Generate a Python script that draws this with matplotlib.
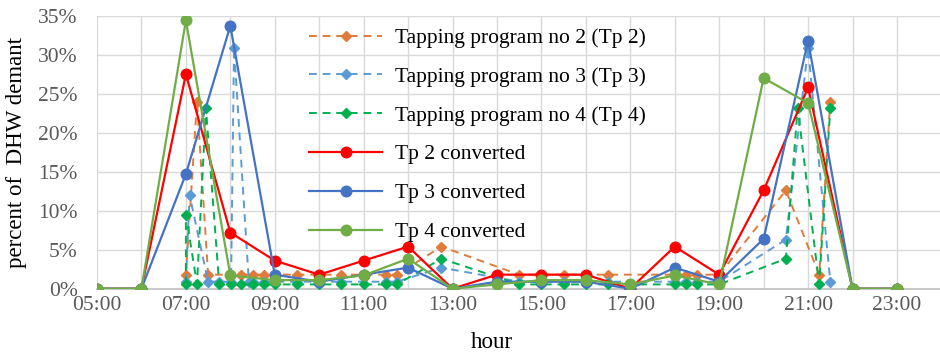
import matplotlib
matplotlib.use("Agg")
import matplotlib.pyplot as plt
from matplotlib.ticker import FixedLocator, FuncFormatter

plt.rcParams['font.family'] = ['Liberation Serif', 'DejaVu Serif']

# Tapping programs: time of each draw-off and share of the daily DHW demand (%)
tp2_times = ["07:00", "07:15", "07:30", "08:00", "08:15", "08:30", "08:45", "09:00",
             "09:30", "10:30", "11:30", "11:45", "12:45", "14:30", "15:30", "16:30",
             "18:00", "18:15", "18:30", "19:00", "20:30", "21:15", "21:30"]
tp2_values = [1.8, 24.0, 1.8, 1.8, 1.8, 1.8, 1.8, 1.8,
              1.8, 1.8, 1.8, 1.8, 5.4, 1.8, 1.8, 1.8,
              1.8, 1.8, 1.8, 1.8, 12.6, 1.8, 24.0]

tp3_times = ["07:00", "07:05", "07:30", "07:45", "08:01", "08:05", "08:25", "08:30",
             "08:45", "09:00", "09:30", "10:30", "11:30", "11:45", "12:45", "14:30",
             "15:30", "16:30", "18:00", "18:15", "18:30", "19:00", "20:30", "21:00",
             "21:30"]
tp3_values = [0.9, 12.0, 0.9, 0.9, 0.9, 30.9, 0.9, 0.9,
              0.9, 0.9, 0.9, 0.9, 0.9, 0.9, 2.7, 0.9,
              0.9, 0.9, 0.9, 0.9, 0.9, 0.9, 6.3, 30.9,
              0.9]

tp4_times = ["07:00", "07:00", "07:15", "07:27", "07:45", "08:01", "08:15", "08:30",
             "08:45", "09:00", "09:30", "10:00", "10:30", "11:00", "11:30", "11:45",
             "12:45", "14:30", "15:00", "15:30", "16:00", "16:30", "17:00", "18:00",
             "18:15", "18:30", "19:00", "20:30", "20:46", "21:15", "21:30"]
tp4_values = [0.55, 9.5, 0.55, 23.2, 0.55, 0.55, 0.55, 0.55,
              0.55, 0.55, 0.55, 0.55, 0.55, 0.55, 0.55, 0.55,
              3.85, 0.55, 0.55, 0.55, 0.55, 0.55, 0.55, 0.55,
              0.55, 0.55, 0.55, 3.85, 23.2, 0.55, 23.2]

# Hourly converted profiles (%)
hours = list(range(5, 24))
tp2_conv = [0, 0, 27.5, 7.2, 3.6, 1.8, 3.6, 5.4, 0, 1.8, 1.8, 1.8, 0, 5.4, 1.8, 12.6, 25.8, 0, 0]
tp3_conv = [0, 0, 14.7, 33.7, 1.8, 0.9, 1.8, 2.7, 0, 0.9, 0.9, 0.9, 0, 2.7, 0.9, 6.4, 31.8, 0, 0]
tp4_conv = [0, 0, 34.4, 1.7, 1.1, 1.1, 1.7, 3.85, 0, 0.55, 1.1, 1.1, 0.55, 1.7, 0.55, 27.0, 23.8, 0, 0]

x_tick_hours = list(range(5, 24, 2))
x_tick_labels = [f"{h:02d}:00" for h in x_tick_hours]
y_ticks = [0, 5, 10, 15, 20, 25, 30, 35]


def to_hours(stamps):
    out = []
    for s in stamps:
        hh, mm = s.split(":")
        out.append(int(hh) + int(mm) / 60.0)
    return out


fig = plt.figure(figsize=(9.4, 3.55), dpi=100)
ax = fig.add_axes([97 / 940, 1 - 288.7 / 355, (941.4 - 97) / 940, (288.7 - 15.7) / 355])

dash = (0, (4, 3))
ax.plot(to_hours(tp2_times), tp2_values, color="#E07B39", lw=1.4, ls=dash,
        marker="D", ms=5.2, label="Tapping program no 2 (Tp 2)", zorder=3)
ax.plot(to_hours(tp3_times), tp3_values, color="#5B9BD5", lw=1.4, ls=dash,
        marker="D", ms=5.2, label="Tapping program no 3 (Tp 3)", zorder=3)
ax.plot(to_hours(tp4_times), tp4_values, color="#00B050", lw=1.4, ls=dash,
        marker="D", ms=5.2, label="Tapping program no 4 (Tp 4)", zorder=3)
ax.plot(hours, tp2_conv, color="#FF0000", lw=1.6, marker="o", ms=7.6,
        label="Tp 2 converted", zorder=4)
ax.plot(hours, tp3_conv, color="#4472C4", lw=1.6, marker="o", ms=7.6,
        label="Tp 3 converted", zorder=4)
ax.plot(hours, tp4_conv, color="#70AD47", lw=1.6, marker="o", ms=7.6,
        label="Tp 4 converted", zorder=4)

ax.set_xlim(5, 24)
ax.set_ylim(0, 35)
ax.xaxis.set_major_locator(FixedLocator(x_tick_hours))
ax.xaxis.set_minor_locator(FixedLocator(hours + [24]))
ax.set_xticklabels(x_tick_labels)
ax.yaxis.set_major_locator(FixedLocator(y_ticks))
ax.yaxis.set_major_formatter(FuncFormatter(lambda v, p: f"{v:.0f}%"))

ax.grid(which="both", axis="x", color="#d9d9d9", lw=1.0, zorder=0)
ax.grid(which="major", axis="y", color="#d9d9d9", lw=1.0, zorder=0)
ax.set_axisbelow(True)

for side in ("top", "right", "left"):
    ax.spines[side].set_visible(False)
ax.spines["bottom"].set_color("#bfbfbf")
ax.spines["bottom"].set_linewidth(1.2)

ax.tick_params(axis="both", which="both", length=0, labelcolor="#595959", labelsize=15.5)
ax.tick_params(axis="x", pad=5)
ax.tick_params(axis="y", pad=14)

ax.set_ylabel("percent of  DHW demant", fontsize=16.5)
ax.yaxis.set_label_coords(-0.083, 0.5)
fig.text(492 / 940, 1 - 342 / 355, "hour", ha="center", va="center", fontsize=16.5)

leg = ax.legend(loc="upper left", bbox_to_anchor=(309 / 940, 1 - 28 / 355),
                bbox_transform=fig.transFigure, frameon=False, fontsize=15.5,
                handlelength=3.4, handletextpad=0.6, labelspacing=0.87,
                borderaxespad=0, borderpad=0)

fig.savefig("out.png", dpi=100)
